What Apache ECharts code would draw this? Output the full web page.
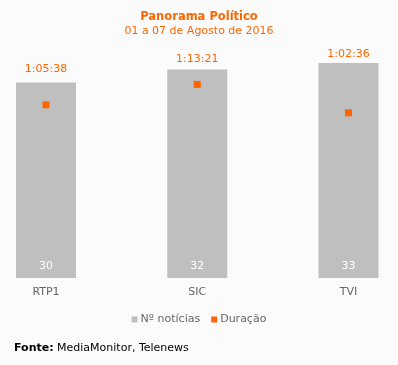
<!DOCTYPE html>
<html><head><meta charset="utf-8">
<script src="https://cdn.jsdelivr.net/npm/echarts@6/dist/echarts.min.js"></script>
<style>html,body{margin:0;padding:0;background:#fbfbfb}#c{width:398px;height:365px}</style>
</head><body><div id="c"></div>
<script>
const categories = ['RTP1', 'SIC', 'TVI'];
const noticias = [30, 32, 33];
const duracao = ['1:05:38', '1:13:21', '1:02:36'];
const toSec = s => { const p = s.split(':').map(Number); return p[0]*3600 + p[1]*60 + p[2]; };
const duracaoSec = duracao.map(toSec);
const FONT = 'DejaVu Sans';
const ORANGE = '#ff6600';
const GRAY = '#bfbfbf';
const labelGap = [8, 5, 3];
const chart = echarts.init(document.getElementById('c'), null, {renderer: 'canvas'});
chart.setOption({
  backgroundColor: '#fbfbfb',
  animation: false,
  title: {
    text: 'Panorama Político',
    subtext: '01 a 07 de Agosto de 2016',
    left: 'center', top: 6, itemGap: 3,
    textStyle: {color: ORANGE, fontFamily: FONT, fontSize: 11.5, fontWeight: 'bold'},
    subtextStyle: {color: ORANGE, fontFamily: FONT, fontSize: 11}
  },
  grid: {left: 46, right: 49.5, top: 50, bottom: 87},
  legend: {
    top: 309, left: 'center', itemWidth: 6, itemHeight: 6, itemGap: 11,
    textStyle: {color: '#666', fontFamily: FONT, fontSize: 11, padding: [0, 0, 0, -2]},
    data: [{name: 'Nº notícias', icon: 'rect'}, {name: 'Duração', icon: 'rect'}]
  },
  xAxis: {
    type: 'category', data: categories, boundaryGap: false,
    axisLine: {show: false}, axisTick: {show: false},
    axisLabel: {color: '#666', fontFamily: FONT, fontSize: 11, margin: 9}
  },
  yAxis: [
    {type: 'value', min: 0, max: 35, show: false},
    {type: 'value', min: 0, max: 5184, show: false}
  ],
  series: [
    {
      name: 'Nº notícias', type: 'bar', data: noticias, barWidth: 60, clip: false,
      itemStyle: {color: GRAY},
      label: {show: true, position: 'insideBottom', distance: 6, color: '#fff', fontFamily: FONT, fontSize: 11}
    },
    {
      name: 'dur-label', type: 'bar', barWidth: 60, barGap: '-100%', clip: false,
      data: noticias.map((v, i) => ({value: v, label: {distance: labelGap[i]}})),
      itemStyle: {color: 'rgba(0,0,0,0)'}, silent: true,
      label: {show: true, position: 'top', color: ORANGE, fontFamily: FONT, fontSize: 11,
        formatter: p => duracao[p.dataIndex]}
    },
    {
      name: 'Duração', type: 'scatter', yAxisIndex: 1, data: duracaoSec,
      symbol: 'rect', symbolSize: 7, itemStyle: {color: ORANGE, opacity: 1}, clip: false
    }
  ],
  graphic: [{
    type: 'text', left: 14, top: 343,
    style: {
      text: '{b|Fonte:} MediaMonitor, Telenews',
      fill: '#000', font: '11px "DejaVu Sans"',
      rich: {b: {fontWeight: 'bold', fontFamily: FONT, fontSize: 11, fill: '#000'}}
    }
  }]
});
</script></body></html>
